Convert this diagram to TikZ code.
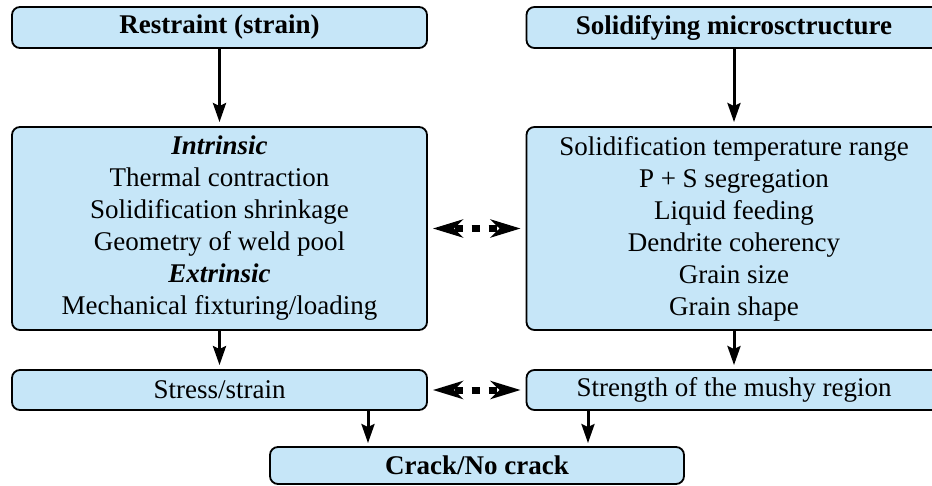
\documentclass[tikz,border=0pt]{standalone}
\usepackage{fontspec}
\setmainfont{Liberation Serif}
\usetikzlibrary{arrows.meta}
\definecolor{boxblue}{RGB}{198,230,248}
\begin{document}
\begin{tikzpicture}[x=1pt,y=-1pt,
  box/.style={draw=black, line width=1.8pt, fill=boxblue, rounded corners=8pt,
    minimum width=415pt, inner sep=0pt, align=center,
    font=\fontsize{27}{32}\selectfont},
  flow/.style={-{Stealth[length=19pt,width=13pt,inset=3pt]}, line width=3pt},
  link/.style={{Stealth[length=30pt,width=18pt,inset=9pt]}-{Stealth[length=30pt,width=18pt,inset=9pt]},
    line width=7pt, dash pattern=on 8pt off 9pt, dash phase=14pt,
    shorten <=5pt, shorten >=5pt}
]
\useasboundingbox (0,0) rectangle (932,485);

% top row
\node[box, minimum height=41pt] (restraint) at (219.5,27.5) {\textbf{Restraint (strain)}};
\node[box, minimum height=41pt] (micro) at (734,27.5) {\textbf{Solidifying microsctructure}};

% factor boxes
\node[box, minimum height=203pt] (intr) at (219.5,228.5) {%
  \textbf{\textit{Intrinsic}}\\
  Thermal contraction\\
  Solidification shrinkage\\
  Geometry of weld pool\\
  \textbf{\textit{Extrinsic}}\\
  Mechanical fixturing/loading};
\node[box, minimum height=203pt] (solid) at (734,228.5) {%
  Solidification temperature range\\
  P + S segregation\\
  Liquid feeding\\
  Dendrite coherency\\
  Grain size\\
  Grain shape};

% result row
\node[box, minimum height=40pt] (stress) at (219.5,390) {Stress/strain};
\node[box, minimum height=40pt] (mushy) at (734,390) {Strength of the mushy region};
\node[box, minimum height=37pt, minimum width=414pt] (crack) at (477,465.5) {\textbf{Crack/No crack}};

% connectors
\draw[flow, shorten >=4pt] (restraint) -- (intr);
\draw[flow, shorten >=4pt] (micro) -- (solid);
\draw[flow, shorten >=4pt] (intr) -- (stress);
\draw[flow, shorten >=4pt] (solid) -- (mushy);
\coordinate (cl) at (368,0);
\coordinate (cr) at (588,0);
\draw[flow, shorten >=3pt] (stress.south -| cl) -- (crack.north -| cl);
\draw[flow, shorten >=3pt] (mushy.south -| cr) -- (crack.north -| cr);
\draw[link] (intr) -- (solid);
\draw[link] (stress) -- (mushy);
\end{tikzpicture}
\end{document}
